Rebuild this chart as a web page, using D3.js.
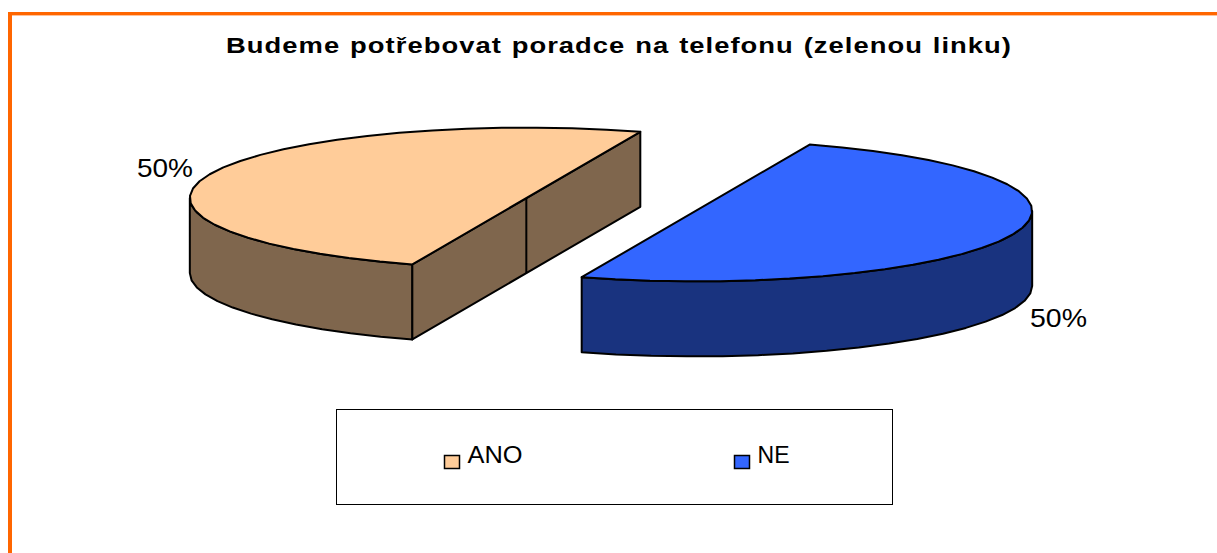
<!DOCTYPE html>
<html><head><meta charset="utf-8">
<script src="https://cdn.jsdelivr.net/npm/d3@7"></script>
<style>html,body{margin:0;padding:0;background:#fff;overflow:hidden}svg{display:block}text{font-family:"Liberation Sans",Arial,sans-serif;fill:#000}</style>
</head><body><svg id="c" width="1217" height="553"></svg>
<script>
const titleText = "Budeme potřebovat poradce na telefonu (zelenou linku)";
const categories = ["ANO", "NE"];
const values = [50, 50];
const topColors = ["#FFCC99", "#3366FF"];
const wallColors = ["#7F664D", "#19337F"];
const labelText = ["50%", "50%"];

const W = 1217, H = 553;
const svg = d3.select("#c");
const cx = 611, cy = 204.5, rx = 336.5, ry = 70.5, depth = 75, explode = 90;
const startDeg = 199.8;
const rad = d => d * Math.PI / 180;

// frame
svg.append("rect").attr("x", 8).attr("y", 12).attr("width", W - 8).attr("height", 3.4).attr("fill", "#FF6600");
svg.append("rect").attr("x", 8).attr("y", 12).attr("width", 4).attr("height", H - 12).attr("fill", "#FF6600");

// title
svg.append("text").attr("x", 226).attr("y", 53).attr("font-size", 21.5).attr("font-weight", "bold")
  .attr("letter-spacing", 0.8).attr("word-spacing", 1)
  .attr("textLength", 786).attr("lengthAdjust", "spacingAndGlyphs").text(titleText);

const slices = d3.pie().sort(null).startAngle(rad(startDeg)).endAngle(rad(startDeg + 360))(values);
const sx = d3.scaleLinear().domain([-1, 1]).range([-rx, rx]);
const sy = d3.scaleLinear().domain([-1, 1]).range([-ry, ry]);
const ln = d3.line();

function geom(s) {
  const mid = (s.startAngle + s.endAngle) / 2;
  const ox = cx + Math.sin(mid) * explode;
  const oy = cy - Math.cos(mid) * explode * ry / rx;
  const pt = (a, dz = 0) => [ox + sx(Math.sin(a)), oy + sy(-Math.cos(a)) + dz];
  const arc = (a0, a1, dz = 0) => {
    const n = Math.max(4, Math.round(Math.abs(a1 - a0) / rad(6)));
    return d3.range(0, n + 1).map(i => pt(a0 + (a1 - a0) * i / n, dz));
  };
  return { ox, oy, pt, arc };
}

slices.forEach((s, i) => {
  const g = geom(s), fill = topColors[i], wall = wallColors[i];
  const sel = svg.append("g").attr("stroke", "#000").attr("stroke-width", 2).attr("stroke-linejoin", "round");
  if (i === 0) {
    const a0 = rad(270), a1 = s.startAngle;
    const top = g.arc(a0, a1), bot = g.arc(a0, a1, depth).reverse();
    sel.append("path").attr("d", ln(top.concat(bot)) + "Z").attr("fill", wall);
    const p0 = g.pt(s.startAngle), p1 = g.pt(s.endAngle);
    const face = [p0, p1, [p1[0], p1[1] + depth], [p0[0], p0[1] + depth]];
    sel.append("path").attr("d", ln(face) + "Z").attr("fill", wall);
    sel.append("path").attr("d", ln([[g.ox, g.oy], [g.ox, g.oy + depth]])).attr("fill", "none");
  } else {
    const a0 = rad(90) + 2 * Math.PI, a1 = s.endAngle;
    const top = g.arc(a0, a1), bot = g.arc(a0, a1, depth).reverse();
    sel.append("path").attr("d", ln(top.concat(bot)) + "Z").attr("fill", wall);
  }
  sel.append("path").attr("d", ln(g.arc(s.startAngle, s.endAngle)) + "Z").attr("fill", fill);
});

// data labels
const labelPos = [[137, 176.5, 56], [1030, 326.5, 57]];
labelText.forEach((t, i) => {
  svg.append("text").attr("x", labelPos[i][0]).attr("y", labelPos[i][1]).attr("font-size", 25)
    .attr("textLength", labelPos[i][2]).attr("lengthAdjust", "spacingAndGlyphs").text(t);
});

// legend
svg.append("rect").attr("x", 336.5).attr("y", 409.5).attr("width", 556).attr("height", 95)
  .attr("fill", "#fff").attr("stroke", "#000").attr("stroke-width", 1);
const legX = [444, 734], legW = [55, 32];
categories.forEach((c, i) => {
  svg.append("rect").attr("x", legX[i] + .5).attr("y", 455.5).attr("width", 15).attr("height", 13)
    .attr("fill", topColors[i]).attr("stroke", "#000").attr("stroke-width", 1.5);
  svg.append("text").attr("x", legX[i] + 23.5).attr("y", 462.5).attr("font-size", 23.5)
    .attr("textLength", legW[i]).attr("lengthAdjust", "spacingAndGlyphs").text(c);
});
</script></body></html>
